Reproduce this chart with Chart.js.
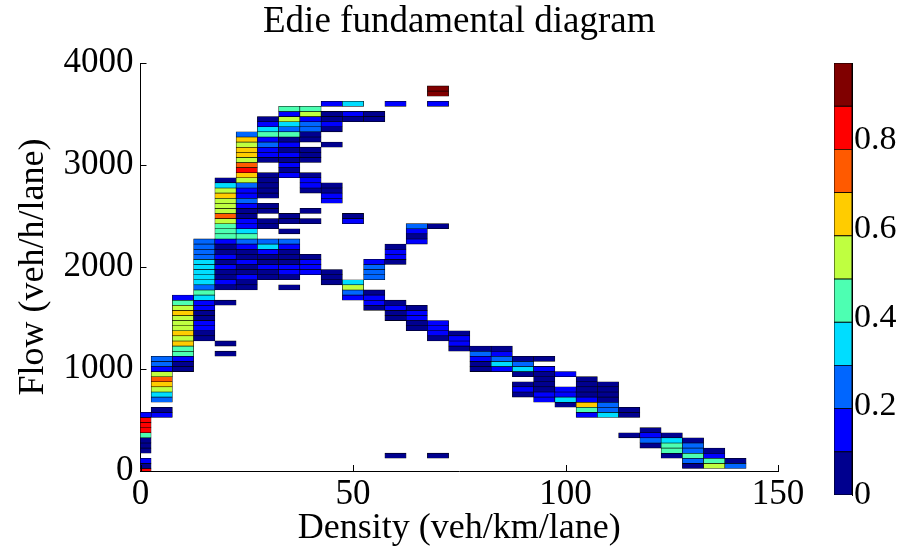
<!DOCTYPE html>
<html><head><meta charset="utf-8">
<script src="https://cdn.jsdelivr.net/npm/chart.js@4/dist/chart.umd.min.js"></script>
<style>
html,body{margin:0;padding:0;background:#fff;}
#wrap{position:relative;width:906px;height:551px;overflow:hidden;}
#main{position:absolute;left:0;top:0;}
#cbar{position:absolute;left:826px;top:0;}
</style></head><body>
<div id="wrap">
<canvas id="main" width="906" height="551"></canvas>
<canvas id="cbar" width="80" height="551"></canvas>
</div>
<script>
// ---- data -------------------------------------------------------------
const densityBins = [0,5,10,15,20,25,30,35,40,45,50,55,60,65,70,75,80,85,90,95,100,105,110,115,120,125,130,135,140];
// per density column: runs of contiguous flow bins, [first flow (veh/h), values bottom -> top]
const cellRuns = [
  [[0,0.83,0.05,0.15],[200,0.05,0.06,0.07,0.44,0.83,0.84,0.82,0.13]],
  [[550,0.12,0.06],[700,0.22,0.31,0.52,0.66,0.71,0.55,0.13,0.21,0.25]],
  [[1000,0.04,0.07,0.16,0.42,0.45,0.62,0.53,0.60,0.56,0.52,0.50,0.64,0.55,0.43,0.14]],
  [[1300,0.05,0.08,0.12,0.15,0.06,0.04,0.13,0.17,0.36,0.41,0.26,0.33,0.35,0.37,0.34,0.32,0.27,0.23,0.25,0.22]],
  [[1150,0.06],[1250,0.05],[1650,0.07],[1800,0.05,0.14,0.06,0.04,0.15,0.07,0.13,0.05,0.06,0.16,0.42,0.44,0.46,0.55,0.73,0.53,0.56,0.54,0.64,0.52,0.35,0.07]],
  [[1800,0.05,0.07,0.13,0.06,0.04,0.14,0.06,0.08,0.15,0.24,0.41,0.33,0.13,0.16,0.05,0.07,0.14,0.23,0.15,0.12,0.25,0.55,0.64,0.84,0.73,0.53,0.62,0.65,0.54,0.63,0.24]],
  [[1900,0.05,0.06,0.14,0.06,0.05,0.15,0.33,0.24],[2400,0.06,0.05],[2550,0.06,0.04],[2700,0.05,0.06,0.07,0.05,0.06],[3050,0.04,0.14,0.16,0.25,0.13,0.42,0.34,0.15,0.05]],
  [[1800,0.05],[1900,0.06,0.15,0.14,0.05,0.06,0.07,0.15,0.23],[2350,0.05],[2450,0.06,0.05],[2900,0.14,0.05,0.13,0.06,0.15,0.05,0.14,0.07,0.43,0.24,0.33,0.53,0.14,0.45]],
  [[1950,0.14,0.15,0.13,0.06],[2450,0.05],[2550,0.06],[2750,0.05,0.14,0.15,0.06],[3050,0.05,0.06,0.07],[3250,0.05,0.06,0.24,0.23,0.14,0.54,0.44]],
  [[1850,0.05,0.06,0.07],[2650,0.14,0.15,0.05,0.06],[3200,0.06],[3350,0.05,0.15,0.06,0.05],[3600,0.14]],
  [[1700,0.15,0.24,0.53,0.35],[2450,0.14,0.05],[3450,0.05,0.14],[3600,0.35]],
  [[1600,0.06,0.14,0.15,0.05],[1900,0.23,0.24,0.25,0.14],[3450,0.05,0.06]],
  [[150,0.05],[1500,0.04,0.06,0.15,0.07],[2050,0.05,0.13,0.16,0.06],[3600,0.14]],
  [[1400,0.05,0.06,0.14,0.15,0.05],[2250,0.14,0.06,0.15,0.24]],
  [[150,0.06],[1300,0.05,0.14,0.15,0.13],[2400,0.05],[3600,0.15],[3700,0.93,0.92]],
  [[1200,0.05,0.14,0.15,0.06]],
  [[1000,0.05,0.06,0.15,0.24,0.05]],
  [[1000,0.14,0.34,0.25,0.15,0.06]],
  [[750,0.05,0.14,0.06],[950,0.05,0.35,0.23,0.06]],
  [[700,0.14,0.15,0.05,0.06,0.05,0.07,0.14],[1100,0.05]],
  [[650,0.06,0.33,0.14,0.15],[950,0.14]],
  [[550,0.13,0.44,0.64,0.15,0.05,0.06,0.05,0.07]],
  [[550,0.34,0.24,0.23,0.06,0.05,0.07,0.05]],
  [[350,0.06],[550,0.05,0.07]],
  [[250,0.05,0.24,0.14,0.06]],
  [[150,0.06,0.43,0.45,0.34,0.05]],
  [[50,0.06,0.24,0.44,0.23,0.25,0.05]],
  [[50,0.54,0.43,0.14,0.06]],
  [[50,0.24,0.05]]
];
const flowBinSize = 50;          // veh/h/lane
const xTicks = [0,50,100,150];
const yTicks = [0,1000,2000,3000,4000];
const colorbarTicks = [0,0.2,0.4,0.6,0.8];
const colorbarMax = 0.974;
// ---- styles ----------------------------------------------------------
const jet = ['#00008F','#0000FF','#0066FF','#00DDFF','#4DFFB2','#BFFF40','#FFCC00','#FF5A00','#FF0000','#800000'];
const serif = 'Liberation Serif';
function colorFor(v){
  if (v === undefined || v === null) return 'rgba(0,0,0,0)';
  const lvl = Math.max(0, Math.min(jet.length-1, Math.floor(v/(colorbarMax/jet.length))));
  return jet[lvl];
}
const cells = [];
densityBins.forEach((d,k)=>{
  (cellRuns[k]||[]).forEach(run=>{
    const f0 = run[0];
    run.slice(1).forEach((v,i)=>{
      if (v === null) return;
      const f = f0 + i*flowBinSize;
      cells.push({x:d, y:[f-flowBinSize/2, f+flowBinSize/2], v:v});
    });
  });
});

const inwardTicks = {
  id:'inwardTicks',
  afterDraw(chart){
    const {ctx, chartArea:a, scales:{x,y}} = chart;
    ctx.save(); ctx.strokeStyle='#000'; ctx.lineWidth=1;
    xTicks.forEach(t=>{const px=Math.round(x.getPixelForValue(t))+0.5; ctx.beginPath(); ctx.moveTo(px,a.bottom); ctx.lineTo(px,a.bottom-6); ctx.stroke();});
    yTicks.forEach(t=>{const py=Math.round(y.getPixelForValue(t))+0.5; ctx.beginPath(); ctx.moveTo(a.left,py); ctx.lineTo(a.left+6,py); ctx.stroke();});
    ctx.restore();
  }
};

new Chart(document.getElementById('main'), {
  type:'bar',
  data:{datasets:[{
    data:cells,
    backgroundColor:(c)=>colorFor(c.raw && c.raw.v),
    borderColor:'#000', borderWidth:0.6, borderSkipped:false,
    grouped:false, barPercentage:1, categoryPercentage:1, clip:0
  }]},
  options:{
    responsive:false, animation:false, devicePixelRatio:1,
    layout:{padding:{left:0,right:128,top:0,bottom:0}},
    plugins:{
      legend:{display:false}, tooltip:{enabled:false},
      title:{display:true, fullSize:false, text:'Edie fundamental diagram', color:'#000',
        font:{family:serif, size:37, weight:'normal', lineHeight:1.2}, padding:{top:0, bottom:18.6}}
    },
    scales:{
      x:{type:'linear', min:0, max:150, offset:false,
        afterBuildTicks:(s)=>{s.ticks = xTicks.map(v=>({value:v}));},
        ticks:{color:'#000', font:{family:serif,size:35}, padding:3, maxRotation:0, autoSkip:false, callback:(v)=>String(v)},
        grid:{display:false, drawTicks:false},
        border:{display:true, color:'#000', width:1},
        title:{display:true, text:'Density (veh/km/lane)', color:'#000', font:{family:serif,size:36,lineHeight:1.2}, padding:{top:0,bottom:1}},
        afterFit:(s)=>{s.height=80;}
      },
      y:{type:'linear', min:0, max:4000,
        afterBuildTicks:(s)=>{s.ticks = yTicks.map(v=>({value:v}));},
        ticks:{color:'#000', font:{family:serif,size:35}, padding:7, autoSkip:false, callback:(v)=>String(v)},
        grid:{display:false, drawTicks:false},
        border:{display:true, color:'#000', width:1},
        title:{display:true, text:'Flow (veh/h/lane)', color:'#000', font:{family:serif,size:36,lineHeight:1.2}, padding:{top:12,bottom:0}},
        afterFit:(s)=>{s.width=140.5;}
      }
    }
  },
  plugins:[inwardTicks]
});

new Chart(document.getElementById('cbar'), {
  type:'bar',
  data:{labels:[''], datasets: jet.map(c=>({data:[colorbarMax/jet.length], backgroundColor:c, borderColor:'#000', borderWidth:0.8, borderSkipped:false, barPercentage:1, categoryPercentage:1}))},
  options:{
    responsive:false, animation:false, devicePixelRatio:1,
    layout:{padding:{left:8,right:0,top:63,bottom:56}},
    plugins:{legend:{display:false}, tooltip:{enabled:false}},
    scales:{
      x:{display:false, stacked:true},
      y:{position:'right', stacked:true, min:0, max:colorbarMax,
        afterBuildTicks:(s)=>{s.ticks = colorbarTicks.map(v=>({value:v}));},
        ticks:{color:'#000', font:{family:serif,size:34}, padding:2, callback:(v)=> v===0?'0':Number(v).toFixed(1)},
        grid:{display:false, drawTicks:false},
        border:{display:true, color:'#000', width:1},
        afterFit:(s)=>{s.width=54;}
      }
    }
  }
});
</script>
</body></html>
